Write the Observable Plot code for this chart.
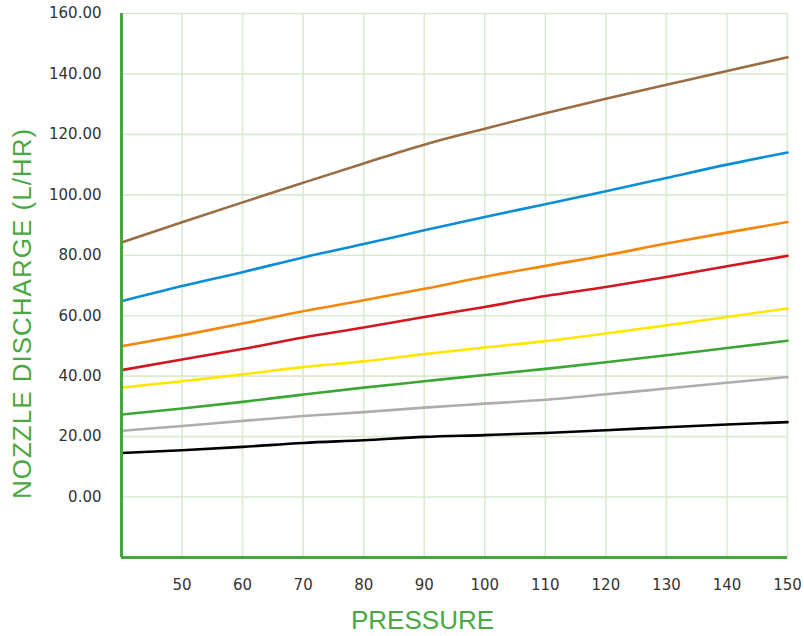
<!DOCTYPE html>
<html>
<head>
<meta charset="utf-8">
<script src="https://cdn.jsdelivr.net/npm/d3@7"></script>
<script src="https://cdn.jsdelivr.net/npm/@observablehq/plot@0.6"></script>
<style>
  html, body { margin: 0; padding: 0; background: #fff; }
  #chart svg { display: block; }
  .tick-lab text { font-family: "DejaVu Sans", Verdana, sans-serif; font-size: 15px; }
  .ytitle text { letter-spacing: 1px; }
</style>
</head>
<body>
<div id="chart"></div>
<script>
const pressure = [40, 50, 60, 70, 80, 90, 100, 110, 120, 130, 140, 150];
const brown  = [84.2, 90.9, 97.5, 104.0, 110.4, 116.6, 121.9, 127.0, 131.8, 136.4, 141.0, 145.5];
const blue   = [64.8, 69.8, 74.4, 79.3, 83.7, 88.3, 92.7, 96.9, 101.2, 105.6, 110.0, 114.0];
const orange = [49.9, 53.5, 57.4, 61.5, 65.1, 68.9, 72.9, 76.5, 80.0, 83.9, 87.5, 91.0];
const red    = [42.0, 45.5, 49.0, 52.8, 56.1, 59.6, 62.9, 66.5, 69.5, 72.8, 76.4, 79.8];
const yellow = [36.2, 38.3, 40.6, 43.0, 44.9, 47.3, 49.5, 51.6, 54.1, 56.8, 59.6, 62.4];
const green  = [27.3, 29.3, 31.5, 33.9, 36.2, 38.3, 40.4, 42.4, 44.6, 46.9, 49.3, 51.7];
const gray   = [21.9, 23.5, 25.2, 26.8, 28.1, 29.6, 30.9, 32.2, 34.0, 35.9, 37.8, 39.7];
const black  = [14.6, 15.5, 16.6, 17.9, 18.8, 19.9, 20.5, 21.2, 22.1, 23.1, 24.0, 24.8];

const xTicks = [50, 60, 70, 80, 90, 100, 110, 120, 130, 140, 150];
const yTicks = [0, 20, 40, 60, 80, 100, 120, 140, 160];
const xTitle = "PRESSURE";
const yTitle = "NOZZLE DISCHARGE (L/HR)";

const series = [
  {values: brown,  color: "#9a6d45"},
  {values: blue,   color: "#0b8ed6"},
  {values: orange, color: "#f5870a"},
  {values: red,    color: "#d3161f"},
  {values: yellow, color: "#ffe600"},
  {values: green,  color: "#3ba535"},
  {values: gray,   color: "#adadad"},
  {values: black,  color: "#000000"}
];

const axisGreen = "#45a73b";
const gridColor = "#dbe9d1";

const lineMarks = series.map(s =>
  Plot.line(pressure.map((p, i) => ({p, v: s.values[i]})), {
    x: "p", y: "v", stroke: s.color, strokeWidth: 2.6, curve: "monotone-x"
  })
);

const chart = Plot.plot({
  width: 804,
  height: 636,
  marginLeft: 121,
  marginRight: 17,
  marginTop: 13,
  marginBottom: 79,
  style: {fontFamily: "'Liberation Sans', Arial, sans-serif", fontSize: "15px", color: "#333", background: "#fff"},
  x: {domain: [40, 150]},
  y: {domain: [-20, 160]},
  marks: [
    Plot.gridX(xTicks, {stroke: gridColor, strokeOpacity: 1, strokeWidth: 1.6}),
    Plot.gridY(yTicks, {stroke: gridColor, strokeOpacity: 1, strokeWidth: 1.6}),
    ...lineMarks,
    Plot.ruleX([40], {stroke: axisGreen, strokeWidth: 3}),
    Plot.ruleY([-20], {stroke: axisGreen, strokeWidth: 3}),
    Plot.axisX(xTicks, {tickSize: 0, tickPadding: 22, label: null, fill: "#333", className: "tick-lab"}),
    Plot.axisY(yTicks, {tickSize: 0, tickPadding: 20, label: null, tickFormat: d => d.toFixed(2), fill: "#333", className: "tick-lab"}),
    Plot.text([xTitle], {frameAnchor: "bottom", lineAnchor: "middle", textAnchor: "middle", dy: 63, dx: -32, fill: "#4aa843", fontSize: 26}),
    Plot.text([yTitle], {frameAnchor: "left", lineAnchor: "middle", textAnchor: "middle", rotate: -90, dx: -99, dy: 28, fill: "#4aa843", fontSize: 26, className: "ytitle"})
  ]
});

document.getElementById("chart").appendChild(chart);
</script>
</body>
</html>
